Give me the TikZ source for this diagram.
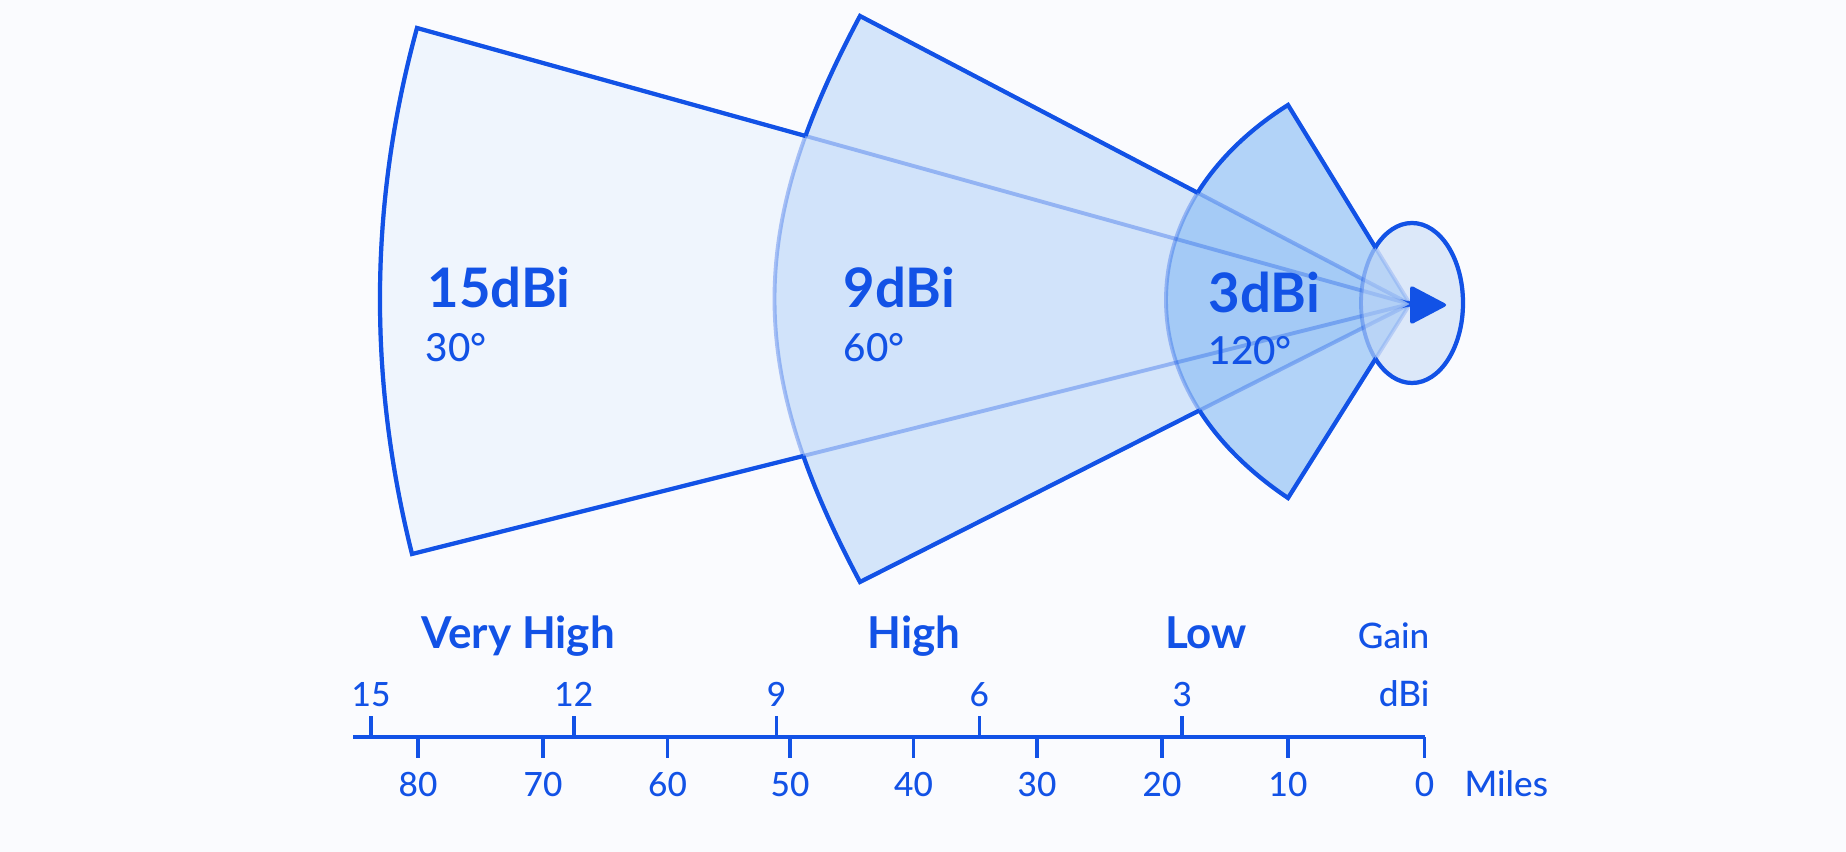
\documentclass[tikz,border=0pt]{standalone}
\usepackage{fontspec}
\setmainfont{Lato}
\newfontfamily\latomed{Lato Medium}
\usepackage{tikz}
\usetikzlibrary{positioning}

\definecolor{ink}{RGB}{18,82,230}
\definecolor{paper}{RGB}{250,251,254}
\definecolor{fillA}{RGB}{234,242,253}
\definecolor{fillB}{RGB}{193,218,249}
\definecolor{fillC}{RGB}{140,190,245}
\definecolor{lobefill}{RGB}{192,214,246}

\tikzset{
  rim/.style={draw=ink,line width=1.2pt},
  seam/.style={draw=ink,draw opacity=0.33,line width=1.1pt},
  beam/.style={fill opacity=0.65},
  gainlbl/.style={text=ink,inner sep=0pt,anchor=base west,font=\bfseries\fontsize{15.5}{18}\selectfont},
  widthlbl/.style={text=ink,inner sep=0pt,anchor=base west,font=\latomed\fontsize{11}{13}\selectfont},
  scaleline/.style={draw=ink,line width=1.2pt},
  scaletick/.style={draw=ink,line width=1pt},
  scalenum/.style={text=ink,inner sep=0pt,anchor=base,font=\latomed\fontsize{9.5}{11}\selectfont},
  scalecat/.style={text=ink,inner sep=0pt,anchor=base,font=\bfseries\fontsize{12.5}{15}\selectfont},
  scaleunit/.style={text=ink,inner sep=0pt,font=\latomed\fontsize{10}{12}\selectfont}
}

% beam outlines, reused for fills, seams and rims
\newcommand{\beamApath}{(apex) -- (aTop) .. controls (369,-203) and (368,-378) .. (aBot) -- cycle}
\newcommand{\beamBpath}{(apex) -- (bTop) .. controls (746,-230) and (746,-368) .. (bBot) -- cycle}
\newcommand{\beamCpath}{(apex) -- (cTop) .. controls (1218,-149) and (1166,-217) .. (1166,-300) .. controls (1166,-383) and (1218,-451) .. (cBot) -- cycle}
\newcommand{\lobepath}{(1412,-303) ellipse [x radius=51, y radius=80]}
% everything but the given shape (used in an even odd rule scope)
\newcommand{\outside}[1]{\clip (0,0) rectangle (1846,-852) #1;}

\begin{document}
\begin{tikzpicture}[x=0.1mm,y=0.1mm]
  \fill[paper] (0,0) rectangle (1846,-852);
  \useasboundingbox (0,0) rectangle (1846,-852);

  \coordinate (apex) at (1410,-304);
  \coordinate (aTop) at (417,-28);
  \coordinate (aBot) at (412,-554);
  \coordinate (bTop) at (860,-16);
  \coordinate (bBot) at (860,-582);
  \coordinate (cTop) at (1288,-105);
  \coordinate (cBot) at (1288,-498);

  \fill[beam,fill=fillA] \beamApath;
  \fill[beam,fill=fillB] \beamBpath;
  \fill[beam,fill=fillC] \beamCpath;
  \draw[seam] \beamApath;
  \draw[seam] \beamBpath;
  \draw[seam] \beamCpath;
  \fill[fill=lobefill,fill opacity=0.5] \lobepath;
  \draw[seam] \lobepath;

  % outer rim: each outline where no other beam lies over it
  \begin{scope}[even odd rule]
    \outside{\beamBpath}
    \draw[rim] \beamApath;
  \end{scope}
  \begin{scope}[even odd rule]
    \outside{\beamApath}
    \outside{\beamCpath}
    \draw[rim] \beamBpath;
  \end{scope}
  \begin{scope}[even odd rule]
    \outside{\beamBpath}
    \outside{\lobepath}
    \draw[rim] \beamCpath;
  \end{scope}
  \begin{scope}[even odd rule]
    \outside{\beamCpath}
    \draw[rim] \lobepath;
  \end{scope}
  \fill[ink,rounded corners=1pt] (1410,-285) -- (1448,-305) -- (1410,-325) -- cycle;

  \node[gainlbl] (g15) at (427,-308) {15dBi};
  \node[widthlbl] (w30) at (425,-362) {30°};
  \node[gainlbl] (g9) at (843,-308) {9dBi};
  \node[widthlbl] (w60) at (843,-362) {60°};
  \node[gainlbl] (g3) at (1208,-313) {3dBi};
  \node[widthlbl] (w120) at (1208,-365) {120°};

  % scale
  \coordinate (axL) at (353,-737);
  \coordinate (axR) at (1424.5,-737);
  \draw[scaleline] (axL) -- (axR);
  \foreach \d in {15,12,9,6,3}{
    \draw[scaletick] ({1385-67.6*\d},-737) -- ++(0,21);
    \node[scalenum] (db\d) at ({1385-67.6*\d},-707) {\d};
  }
  \foreach \m/\x in {80/418,70/543,60/667.5,50/790,40/913.5,30/1037,20/1162,10/1288,0/1424.5}{
    \draw[scaletick] (\x,-737) -- ++(0,-21);
    \node[scalenum] (mi\m) at (\x,-797) {\m};
  }

  \node[scalecat] (vhigh) at (518,-649) {Very High};
  \node[scalecat] (high) at (914,-649) {High};
  \node[scalecat] (low) at (1206,-649) {Low};
  \node[scaleunit,anchor=base east] (gainhead) at (1430,-649) {Gain};
  \node[scaleunit,anchor=base east] (dbhead) at (1430,-707) {dBi};
  \node[scaleunit,base right=2.9mm of mi0] (mileshead) {Miles};
\end{tikzpicture}
\end{document}
